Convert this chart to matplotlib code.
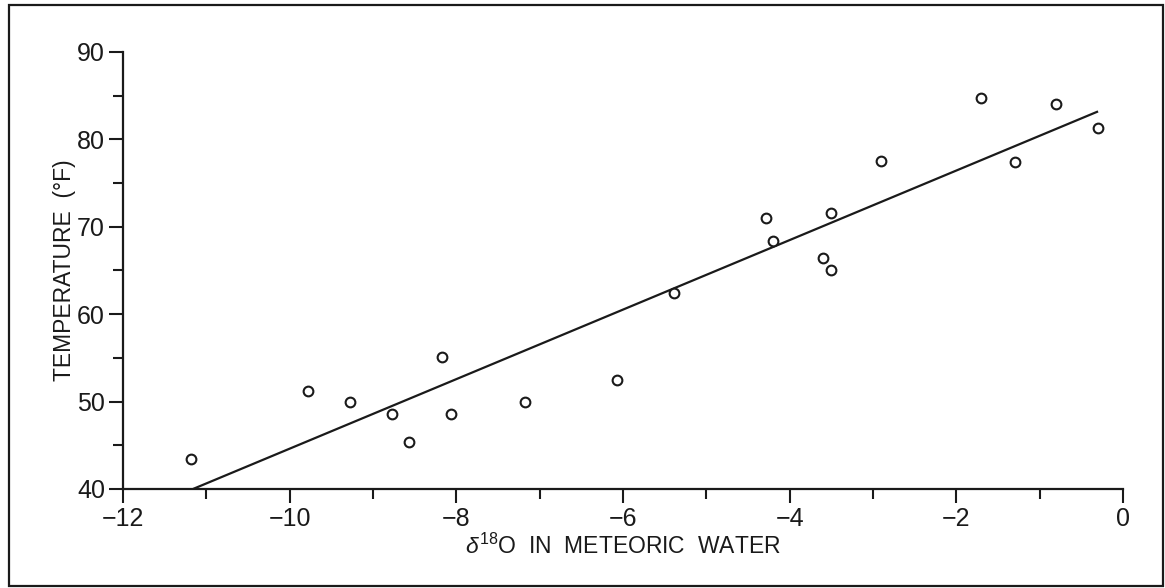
import numpy as np
import matplotlib
matplotlib.use("Agg")
import matplotlib.pyplot as plt
from matplotlib.patches import Rectangle

plt.rcParams['font.family'] = ['Liberation Sans', 'DejaVu Sans']
plt.rcParams['mathtext.fontset'] = 'custom'
plt.rcParams['mathtext.rm'] = 'Liberation Sans'
plt.rcParams['mathtext.it'] = 'Liberation Sans:italic'

# d18O of meteoric water vs mean temperature
d18o = [-11.19, -9.78, -9.28, -8.77, -8.57, -8.17, -8.07, -7.18, -6.07,
        -5.39, -4.29, -4.20, -3.60, -3.50, -3.50, -2.90, -1.70, -1.30,
        -0.80, -0.30]
temp_f = [43.4, 51.25, 50.0, 48.6, 45.4, 55.1, 48.6, 50.0, 52.5,
          62.4, 71.0, 68.4, 66.4, 65.1, 71.6, 77.5, 84.7, 77.4,
          84.0, 81.3]

# regression line end points
fit_x = [-11.16, -0.30]
fit_y = [40.0, 83.2]

fig = plt.figure(figsize=(11.65, 5.88), dpi=100)
ax = fig.add_axes([0.1056, 0.1684, 0.8584, 0.7432])

ax.plot(fit_x, fit_y, color='#1a1a1a', lw=1.6, solid_capstyle='butt')
ax.plot(d18o, temp_f, 'o', ms=7, mfc='white', mec='#1a1a1a', mew=1.5,
        linestyle='none')

ax.set_xlim(-12, 0)
ax.set_ylim(40, 90)
ax.set_xticks(np.arange(-12, 1, 2))
ax.set_xticks(np.arange(-11, 0, 2), minor=True)
ax.set_yticks(np.arange(40, 91, 10))
ax.set_yticks(np.arange(45, 90, 10), minor=True)

for s in ['top', 'right']:
    ax.spines[s].set_visible(False)
for s in ['left', 'bottom']:
    ax.spines[s].set_linewidth(1.6)
    ax.spines[s].set_color('#1a1a1a')

ax.tick_params(which='major', length=10, width=1.5, labelsize=18,
               colors='#1a1a1a', pad=3)
ax.tick_params(which='minor', length=7, width=1.5, colors='#1a1a1a')

ax.set_xlabel(r'$\delta^{18}$O  IN  METEORIC  WATER', fontsize=16.5,
              color='#1a1a1a', labelpad=2)
ax.set_ylabel('TEMPERATURE  (°F)', fontsize=16.5, color='#1a1a1a',
              labelpad=1)

fig.add_artist(Rectangle((9 / 1165, 2 / 588), 1154 / 1165, 581 / 588,
                         transform=fig.transFigure, fill=False,
                         edgecolor='#1a1a1a', lw=1.6))

fig.savefig('out.png', dpi=100)
